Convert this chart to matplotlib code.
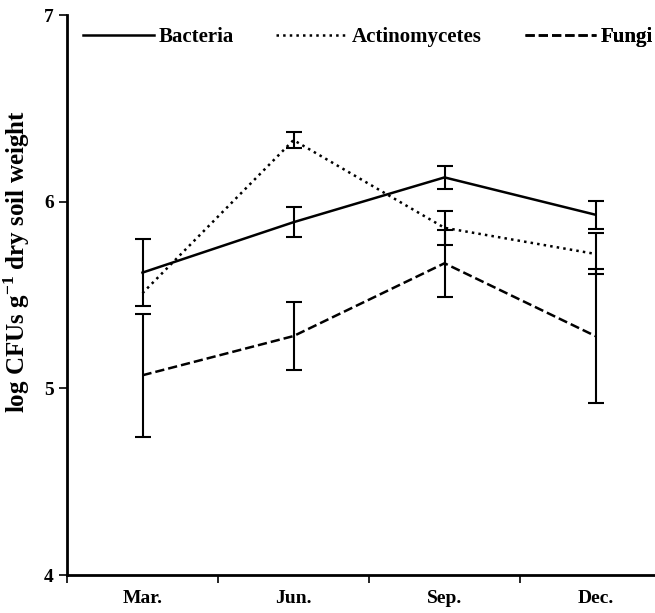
import matplotlib.pyplot as plt
from matplotlib.lines import Line2D

months = ["Mar.", "Jun.", "Sep.", "Dec."]
bacteria = [5.62, 5.89, 6.13, 5.93]
bacteria_err = [0.18, 0.08, 0.06, 0.075]
actino = [5.51, 6.33, 5.86, 5.72]
actino_err = [0.0, 0.045, 0.09, 0.11]
fungi = [5.07, 5.28, 5.67, 5.28]
fungi_err = [0.33, 0.18, 0.18, 0.36]

plt.rcParams['font.family'] = ['Liberation Serif', 'DejaVu Serif']
plt.rcParams['font.weight'] = 'bold'
plt.rcParams['mathtext.fontset'] = 'custom'
plt.rcParams['mathtext.rm'] = 'Liberation Serif:bold'
plt.rcParams['mathtext.bf'] = 'Liberation Serif:bold'

fig = plt.figure(figsize=(6.55, 6.13), dpi=100)
ax = fig.add_axes([67 / 655, 38 / 613, 604 / 655, 560 / 613])

x = [1, 2, 3, 4]
series = [
    (bacteria, bacteria_err, '-', "Bacteria"),
    (actino, actino_err, ':', "Actinomycetes"),
    (fungi, fungi_err, '--', "Fungi"),
]
for vals, err, ls, name in series:
    ax.plot(x, vals, color='black', linestyle=ls, linewidth=1.8)
    # no bar where the error is zero
    idx = [i for i in range(len(x)) if err[i] > 0]
    ax.errorbar([x[i] for i in idx], [vals[i] for i in idx], yerr=[err[i] for i in idx],
                fmt='none', ecolor='black', elinewidth=1.5, capsize=6, capthick=1.5)

ax.set_xlim(0.5, 4.5)
ax.set_ylim(4, 7)
ax.set_yticks([4, 5, 6, 7])
ax.set_yticklabels(["4", "5", "6", "7"], fontsize=14, fontweight='bold')
ax.set_xticks([0.5, 1.5, 2.5, 3.5, 4.5])
ax.set_xticklabels([])
ax.set_xticks(x, minor=True)
ax.set_xticklabels(months, minor=True, fontsize=14, fontweight='bold')
ax.tick_params(axis='x', which='minor', length=0, pad=11)
ax.tick_params(axis='both', which='major', direction='out', length=6, width=1.2)
ax.spines['top'].set_visible(False)
ax.spines['right'].set_visible(False)
ax.spines['left'].set_linewidth(2)
ax.spines['bottom'].set_linewidth(2)

ax.set_ylabel("log CFUs g$^{-1}$ dry soil weight", fontsize=18, fontweight='bold')
ax.yaxis.set_label_coords(-0.058, 0.56)

# three separate legend entries spread along the top
leg_x = [0.0265, 0.346, 0.758]
for (vals, err, ls, name), lx in zip(series, leg_x):
    h = Line2D([], [], color='black', linestyle=ls, linewidth=1.8)
    leg = ax.legend([h], [name], loc='center left', bbox_to_anchor=(lx, 0.96),
                    frameon=False, fontsize=15, handlelength=3.4, handletextpad=0.25,
                    borderpad=0, borderaxespad=0)
    ax.add_artist(leg)

fig.savefig("out.png", dpi=100)
